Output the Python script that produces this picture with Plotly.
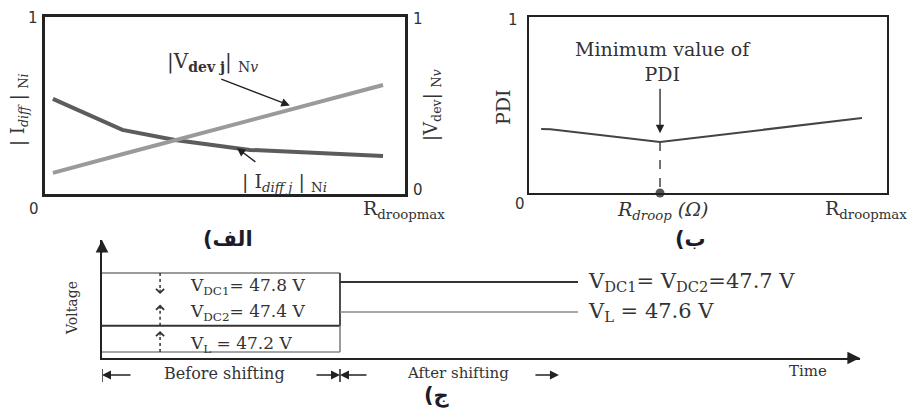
import plotly.graph_objects as go

W, H = 909, 411


def px(x):
    return x / W


def py(y):
    return 1 - y / H


# ---------------- data ----------------
# Panel (الف): normalised current difference / voltage deviation vs R_droop
r_idiff = [0.022, 0.215, 0.361, 0.569, 0.939]
idiff_norm = [0.537, 0.362, 0.305, 0.249, 0.215]
r_vdev = [0.022, 0.217, 0.939]
vdev_norm = [0.119, 0.226, 0.616]

# Panel (ب): PDI vs R_droop
r_pdi = [0.034, 0.06, 0.366, 0.87, 0.93]
pdi = [0.364, 0.362, 0.29, 0.415, 0.426]

# Panel (ج): voltages before / after shifting
t_shift = 1.0
t_end = 2.0
v_dc1_before = 47.8
v_dc2_before = 47.4
v_l_before = 47.2
v_dc_after = 47.7
v_l_after = 47.6

panel_labels = ["الف)", "ب)", "ج)"]

SERIF = "DejaVu Serif"
SANS = "DejaVu Sans"
TXT = "#333333"

fig = go.Figure()

# ---- panel a ----
fig.add_trace(go.Scatter(x=r_vdev, y=vdev_norm, mode="lines", xaxis="x", yaxis="y2",
                         line=dict(color="#9a9a9a", width=4)))
fig.add_trace(go.Scatter(x=r_idiff, y=idiff_norm, mode="lines", xaxis="x", yaxis="y",
                         line=dict(color="#5c5c5c", width=4)))

# ---- panel b ----
i_min = min(range(len(pdi)), key=lambda i: pdi[i])
x_min, pdi_min = r_pdi[i_min], pdi[i_min]
fig.add_trace(go.Scatter(x=r_pdi, y=pdi, mode="lines", xaxis="x2", yaxis="y3",
                         line=dict(color="#444444", width=2)))
fig.add_trace(go.Scatter(x=[x_min, x_min], y=[pdi_min, 0], mode="lines", xaxis="x2", yaxis="y3",
                         line=dict(color="#444444", width=1.5, dash="dash")))
fig.add_trace(go.Scatter(x=[x_min], y=[0], mode="markers", xaxis="x2", yaxis="y3",
                         cliponaxis=False,
                         marker=dict(color="#555555", size=9, symbol="circle")))

# ---- panel c ----
def seg(x, y, color, width, yaxis="y4", dash=None):
    fig.add_trace(go.Scatter(x=x, y=y, mode="lines", xaxis="x3", yaxis=yaxis, cliponaxis=False,
                             line=dict(color=color, width=width, dash=dash)))


seg([0, t_shift], [v_dc1_before] * 2, "#7a7a7a", 1.5)
seg([0, t_shift], [v_dc2_before] * 2, "#333333", 2)
seg([0, t_shift], [v_l_before] * 2, "#8a8a8a", 1.5)
seg([t_shift, t_shift], [v_dc1_before, v_l_before], "#7a7a7a", 1.5)
seg([t_shift, t_shift], [v_dc1_before, v_dc2_before], "#444444", 1.8)
seg([t_shift, t_end], [v_dc_after] * 2, "#333333", 2, yaxis="y5")
seg([t_shift, t_end], [v_l_after] * 2, "#8a8a8a", 1.5, yaxis="y5")

t_arrow = 0.244
arr_len = 0.16
dotted = [(v_dc1_before, -1), (v_dc2_before, 1), (v_l_before, 1)]
for v0, sgn in dotted:
    seg([t_arrow, t_arrow], [v0, v0 + sgn * (arr_len - 0.02)], "#333333", 1.5, dash="dot")

axis_common = dict(showgrid=False, zeroline=False, showticklabels=False, ticks="")

layout = dict(
    width=W, height=H, margin=dict(l=0, r=0, t=0, b=0),
    paper_bgcolor="white", plot_bgcolor="white", showlegend=False,
    xaxis=dict(domain=[px(45), px(405)], range=[0, 1], anchor="y", showline=True, mirror=True,
               linecolor="#222222", linewidth=2.5, **axis_common),
    yaxis=dict(domain=[py(194), py(17)], range=[0, 1], anchor="x", showline=True, mirror=True,
               linecolor="#222222", linewidth=2.5, **axis_common),
    yaxis2=dict(overlaying="y", side="right", range=[0, 1], anchor="x", showline=False, **axis_common),
    xaxis2=dict(domain=[px(529), px(887)], range=[0, 1], anchor="y3", showline=True, mirror=True,
                linecolor="#222222", linewidth=2, **axis_common),
    yaxis3=dict(domain=[py(193), py(17)], range=[0, 1], anchor="x2", showline=True, mirror=True,
                linecolor="#222222", linewidth=2, **axis_common),
    xaxis3=dict(domain=[px(102), px(860)], range=[0, 3.185], anchor="y4", showline=True,
                linecolor="#222222", linewidth=2, **axis_common),
    yaxis4=dict(domain=[py(358), py(240)], range=[47.154, 48.051], anchor="x3", showline=True,
                linecolor="#222222", linewidth=2, **axis_common),
    yaxis5=dict(overlaying="y4", range=[47.4467, 47.84], anchor="x3", visible=False, **axis_common),
)

ann = []


def text(t, x, y, size, font=SERIF, color=TXT, **kw):
    d = dict(text=t, x=px(x), y=py(y), xref="paper", yref="paper", showarrow=False,
             font=dict(family=font, size=size, color=color), xanchor="center", yanchor="middle")
    d.update(kw)
    ann.append(d)


# panel a texts
text("1", 33, 18, 15, font=SANS)
text("0", 34, 209, 15, font=SANS)
text("1", 418, 19, 15, font=SANS)
text("0", 418, 190, 15, font=SANS)
text("R<sub>droopmax</sub>", 404, 209, 19)
text("|V<sub><b>dev j</b></sub>| <sub>N<i>v</i></sub>", 212, 62, 20)
text("| I<sub><i>diff j</i></sub> | <sub>N<i>i</i></sub>", 284, 182, 19)
text("| I<sub><i>diff</i></sub> | <sub>N<i>i</i></sub>", 19, 110, 18, textangle=-90)
text("|V<sub>dev</sub>| <sub>N<i>v</i></sub>", 432, 105, 18, textangle=-90)

# arrows panel a
ann.append(dict(x=0.68, y=0.50, xref="x", yref="y2", ax=-70, ay=-27, showarrow=True, text="",
                arrowhead=2, arrowsize=1.3, arrowwidth=1.3, arrowcolor="#222222"))
ann.append(dict(x=0.533, y=0.26, xref="x", yref="y", ax=20, ay=15, showarrow=True, text="",
                arrowhead=2, arrowsize=1.3, arrowwidth=1.3, arrowcolor="#222222"))

# panel b texts
text("1", 513, 20, 15, font=SANS)
text("0", 520, 204, 15, font=SANS)
text("PDI", 503, 107, 19, textangle=-90)
text("Minimum value of<br>PDI", 663, 61, 19)
text("<i>R<sub>droop</sub> (Ω)</i>", 662, 210, 19)
text("R<sub>droopmax</sub>", 866, 209, 19)
ann.append(dict(x=x_min, y=pdi_min + 0.05, xref="x2", yref="y3", ax=0, ay=-46, showarrow=True, text="",
                arrowhead=2, arrowsize=1.3, arrowwidth=1.3, arrowcolor="#222222"))

# panel labels
text("<b>" + panel_labels[0] + "\u200f</b>", 228, 239, 21, font=SANS, color="#1b1b2b")
text("<b>" + panel_labels[1] + "\u200f</b>", 690, 239, 21, font=SANS, color="#1b1b2b")
text("<b>" + panel_labels[2] + "\u200f</b>", 437, 395, 21, font=SANS, color="#1b1b2b")

# panel c texts
ann.append(dict(text=f"V<sub>DC1</sub>= {v_dc1_before} V", x=0.61, y=v_dc1_before, xref="x3", yref="y4",
                showarrow=False, yanchor="top", xanchor="center",
                font=dict(family=SERIF, size=17, color=TXT)))
ann.append(dict(text=f"V<sub>DC2</sub>= {v_dc2_before} V", x=0.61, y=v_dc2_before, xref="x3", yref="y4",
                showarrow=False, yanchor="bottom", xanchor="center",
                font=dict(family=SERIF, size=17, color=TXT)))
ann.append(dict(text=f"V<sub>L</sub> = {v_l_before} V", x=0.585, y=v_l_before, xref="x3", yref="y4",
                showarrow=False, yanchor="bottom", xanchor="center", yshift=-6,
                font=dict(family=SERIF, size=17, color=TXT)))
ann.append(dict(text=f"V<sub>DC1</sub>= V<sub>DC2</sub>={v_dc_after} V", x=t_end, y=v_dc_after, xref="x3",
                yref="y5", showarrow=False, yanchor="middle", xanchor="left", xshift=8,
                font=dict(family=SERIF, size=21, color=TXT)))
ann.append(dict(text=f"V<sub>L</sub> = {v_l_after} V", x=t_end, y=v_l_after, xref="x3",
                yref="y5", showarrow=False, yanchor="middle", xanchor="left", xshift=8,
                font=dict(family=SERIF, size=21, color=TXT)))
text("Voltage", 72, 308, 14, textangle=-90)
text("Time", 808, 371, 15)
text("Before shifting", 224, 373, 16)
text("After shifting", 458, 373, 15)

# dotted arrow heads
for v0, sgn in dotted:
    ann.append(dict(x=t_arrow, y=v0 + sgn * arr_len, xref="x3", yref="y4", ax=0, ay=sgn * 6,
                    showarrow=True, text="", arrowhead=4, arrowsize=1.2, arrowwidth=1.3,
                    arrowcolor="#333333"))

# axis arrow heads
ann.append(dict(x=3.185, y=47.154, xref="x3", yref="y4", ax=-14, ay=0, showarrow=True, text="",
                arrowhead=2, arrowsize=1.4, arrowwidth=1.8, arrowcolor="#222222"))
ann.append(dict(x=0, y=48.051, xref="x3", yref="y4", ax=0, ay=14, showarrow=True, text="",
                arrowhead=2, arrowsize=1.4, arrowwidth=1.8, arrowcolor="#222222"))

# interval arrows under the time axis
y_int = py(375)
for tip, off in [(0, 30), (t_shift, -25), (t_shift, 28), (1.92, -25)]:
    ann.append(dict(x=tip, y=y_int, xref="x3", yref="paper", ax=off, ay=0, showarrow=True, text="",
                    arrowhead=2, arrowsize=1.2, arrowwidth=1.5, arrowcolor="#222222"))

shapes = []
for tb in [0, t_shift]:
    shapes.append(dict(type="line", xref="x3", yref="paper", x0=tb, x1=tb, y0=py(369), y1=py(382),
                       line=dict(color="#222222", width=1.5)))

layout["annotations"] = ann
layout["shapes"] = shapes
fig.update_layout(**layout)
fig.write_html("out.html")
